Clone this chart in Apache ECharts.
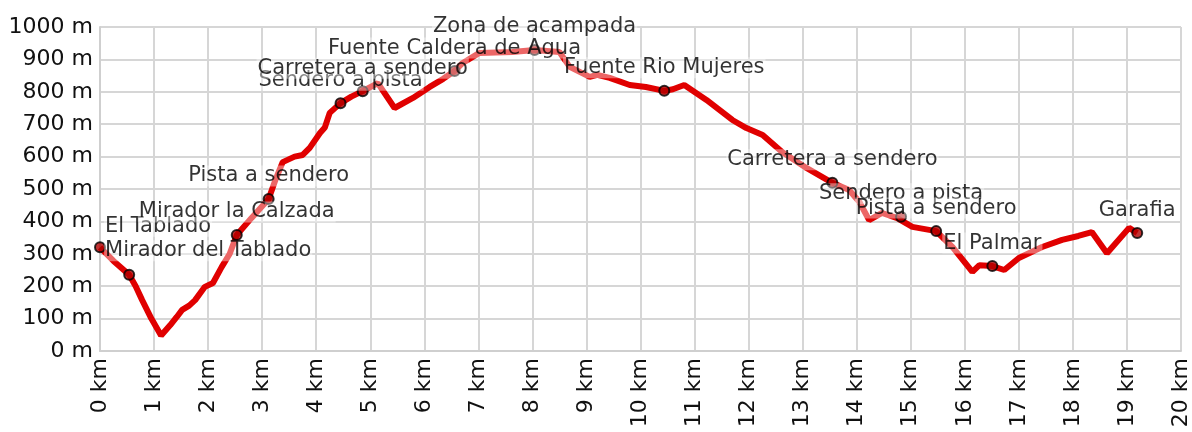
<!DOCTYPE html>
<html>
<head>
<meta charset="utf-8">
<script src="https://cdn.jsdelivr.net/npm/echarts@6/dist/echarts.min.js"></script>
<style>
  html, body { margin: 0; padding: 0; background: #fff; }
  #chart { width: 1192px; height: 432px; }
</style>
</head>
<body>
<div id="chart"></div>
<script>
// elevation profile (km, m)
var distKm = [0, 0.25, 0.54, 0.66, 0.78, 0.95, 1.13, 1.3, 1.42, 1.52, 1.65, 1.76, 1.94, 2.09, 2.25,
  2.4, 2.53, 2.8, 3.12, 3.25, 3.38, 3.6, 3.75, 3.88, 4.07, 4.16, 4.25, 4.45, 4.65, 4.86, 5.14,
  5.45, 5.79, 6.1, 6.35, 6.56, 6.71, 7.02, 7.63, 8.04, 8.5, 8.69, 9.06, 9.2, 9.43, 9.8, 10.1,
  10.44, 10.6, 10.81, 11.22, 11.7, 11.96, 12.26, 12.62, 13.07, 13.55, 13.86, 14.05, 14.23,
  14.47, 14.75, 15.03, 15.47, 15.77, 16.14, 16.27, 16.51, 16.73, 17.0, 17.43, 17.8, 18.1,
  18.35, 18.63, 19.04, 19.19];
var elevM = [320, 278, 235, 200, 157, 100, 48, 80, 105, 127, 140, 157, 198, 210, 259,
  300, 358, 410, 469, 530, 583, 600, 605, 627, 673, 690, 735, 765, 785, 802, 827,
  750, 781, 815, 840, 864, 889, 920, 923, 929, 923, 877, 846, 852, 843, 821, 815,
  803, 808, 821, 775, 713, 688, 667, 614, 565, 519, 497, 460, 404,
  426, 410, 383, 370, 321, 244, 265, 262, 250, 287, 321, 343, 355,
  367, 302, 380, 364];

// waypoints
var wpNames = ['El Tablado', 'Mirador del Tablado', 'Mirador la Calzada', 'Pista a sendero',
  'Sendero a pista', 'Carretera a sendero', 'Fuente Caldera de Agua', 'Zona de acampada',
  'Fuente Rio Mujeres', 'Carretera a sendero', 'Sendero a pista', 'Pista a sendero',
  'El Palmar', 'Garafia'];
var wpDist = [0, 0.54, 2.53, 3.12, 4.45, 4.86, 6.56, 8.04, 10.44, 13.55, 14.82, 15.47, 16.51, 19.19];
var wpElev = [320, 235, 358, 469, 765, 802, 864, 929, 803, 519, 414, 370, 262, 364];

var xTicks = { min: 0, max: 20, step: 1 };
var yTicks = { min: 0, max: 1000, step: 100 };

// labels near the left edge are pushed inside the plot
var labelShift = { 0: [58, -21], 1: [79, -24] };

var FONT = 'DejaVu Sans';

var profile = distKm.map(function (d, i) { return [d, elevM[i]]; });
var points = wpNames.map(function (n, i) {
  return {
    name: n,
    value: [wpDist[i], wpElev[i]],
    label: { offset: labelShift[i] || [0, -23] }
  };
});

var chart = echarts.init(document.getElementById('chart'));
chart.setOption({
  animation: false,
  backgroundColor: '#fff',
  grid: { left: 100, right: 10, top: 27, bottom: 81 },
  xAxis: {
    type: 'value',
    min: xTicks.min, max: xTicks.max, interval: xTicks.step,
    axisLine: { lineStyle: { color: '#cfcfcf', width: 2 } },
    axisTick: { show: false },
    splitLine: { show: true, lineStyle: { color: '#d6d6d6', width: 2 } },
    axisLabel: {
      rotate: 90, margin: 7, fontSize: 22, fontFamily: FONT, color: '#111',
      formatter: function (v) { return v + ' km'; }
    }
  },
  yAxis: {
    type: 'value',
    min: yTicks.min, max: yTicks.max, interval: yTicks.step,
    axisLine: { show: true, lineStyle: { color: '#cfcfcf', width: 2 } },
    axisTick: { show: false },
    splitLine: { show: true, lineStyle: { color: '#d6d6d6', width: 2 } },
    axisLabel: {
      margin: 7, fontSize: 22, fontFamily: FONT, color: '#111',
      formatter: function (v) { return v + ' m'; }
    }
  },
  series: [{
    type: 'line',
    data: profile,
    showSymbol: false,
    z: 2,
    lineStyle: { color: '#e00000', width: 6 }
  }, {
    type: 'scatter',
    data: points,
    clip: false,
    z: 3,
    symbol: 'circle',
    symbolSize: 10,
    itemStyle: { color: '#b00000', borderColor: '#000', borderWidth: 2 },
    label: {
      show: true,
      position: 'inside',
      formatter: '{b}',
      fontSize: 21,
      fontFamily: FONT,
      color: '#000',
      textBorderWidth: 0,
      backgroundColor: 'rgba(255,255,255,0.5)',
      padding: [0, 1]
    }
  }]
});
</script>
</body>
</html>
